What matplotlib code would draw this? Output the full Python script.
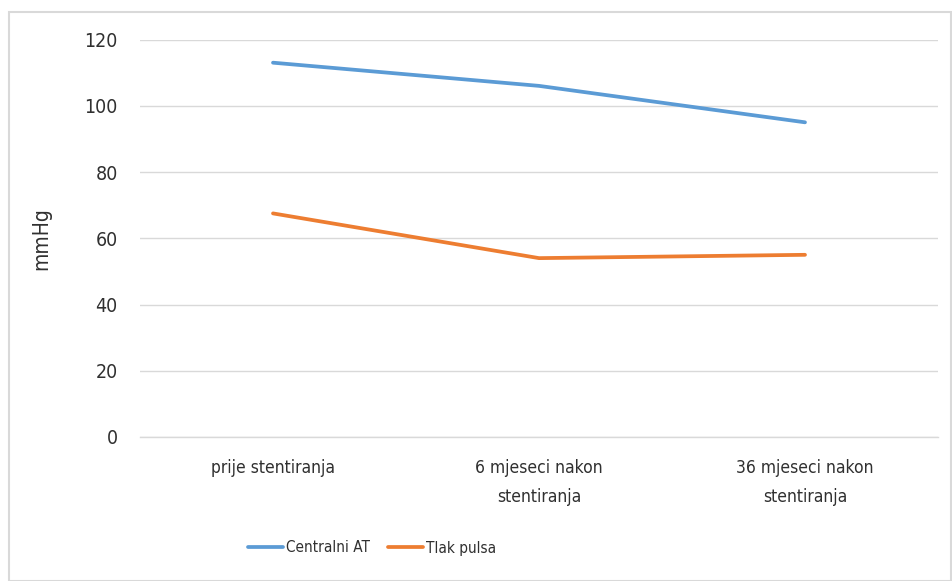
import matplotlib
matplotlib.use("Agg")
import matplotlib.pyplot as plt
from matplotlib.patches import Rectangle

categories = ["prije stentiranja", "6 mjeseci nakon\nstentiranja", "36 mjeseci nakon\nstentiranja"]
centralni_at = [113, 106, 95]
tlak_pulsa = [67.5, 54, 55]
series_names = ["Centralni AT", "Tlak pulsa"]
yticks = [0, 20, 40, 60, 80, 100, 120]

plt.rcParams['font.family'] = ['DejaVu Sans']
plt.rcParams['font.stretch'] = 'condensed'
txt = "#303030"

W, H = 952, 581
fig = plt.figure(figsize=(W/100, H/100), dpi=100)
fig.patches.append(Rectangle((9/W, 0), (W-10)/W, 1 - 11/H - 0.002, transform=fig.transFigure,
                             fill=False, edgecolor="#d9d9d9", linewidth=1.5))
ax = fig.add_axes([140/W, 1-437/H, (938-140)/W, (437-39.5)/H])

x = list(range(len(categories)))
ax.plot(x, centralni_at, color="#5B9BD5", linewidth=2.7, solid_capstyle="round", label=series_names[0])
ax.plot(x, tlak_pulsa, color="#ED7D31", linewidth=2.7, solid_capstyle="round", label=series_names[1])

ax.set_xlim(-0.5, len(categories)-0.5)
ax.set_ylim(0, 120)
ax.set_yticks(yticks)
ax.set_yticklabels([str(v) for v in yticks], fontsize=14, color=txt)
ax.set_xticks(x)
ax.set_xticklabels(categories, fontsize=12.5, color=txt, linespacing=1.75)
ax.tick_params(axis="both", length=0)
ax.tick_params(axis="y", pad=16)
ax.tick_params(axis="x", pad=16)
ax.grid(axis="y", color="#d9d9d9", linewidth=1)
ax.set_axisbelow(True)
for s in ["top", "right", "left"]:
    ax.spines[s].set_visible(False)
ax.spines["bottom"].set_color("#d9d9d9")
ax.spines["bottom"].set_linewidth(1)
ax.set_ylabel("mmHg", fontsize=15, color=txt, labelpad=24)

fig.legend(loc="center", bbox_to_anchor=(372/W, 1-548/H), ncol=2, frameon=False,
           fontsize=11, handlelength=2.3, handletextpad=0.2, columnspacing=1.2,
           labelcolor=txt)

fig.savefig("out.png", dpi=100)
